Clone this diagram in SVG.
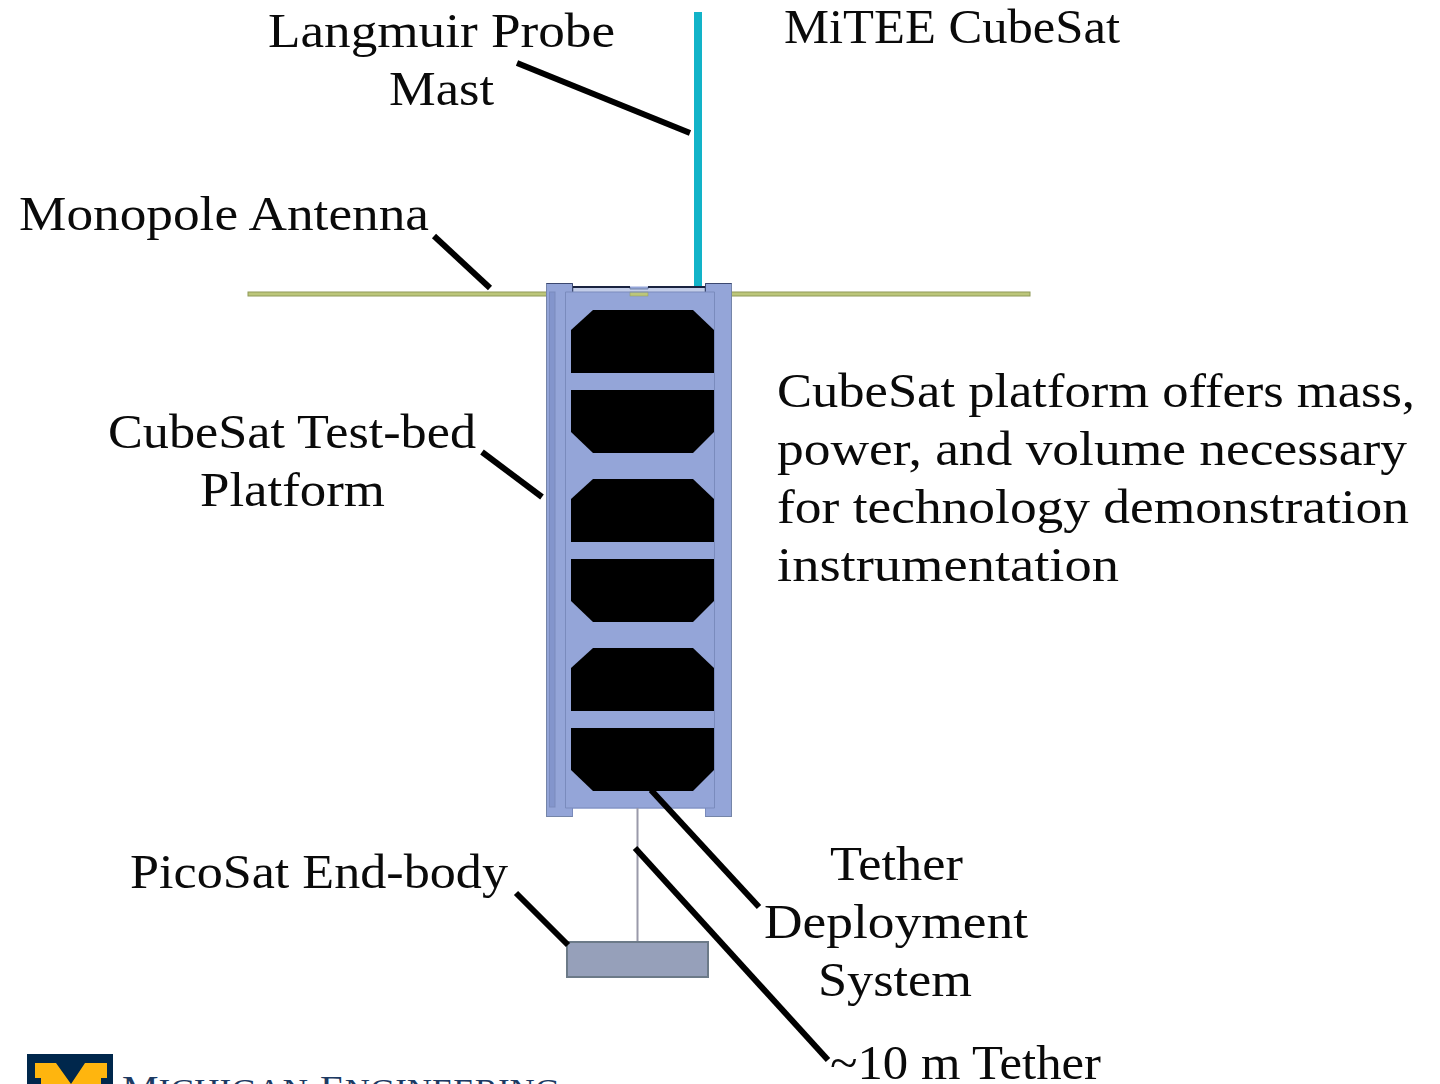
<svg xmlns="http://www.w3.org/2000/svg" width="1440" height="1084" viewBox="0 0 1440 1084">
<style>
text{font-family:"Liberation Serif","DejaVu Serif",serif;font-size:48px;fill:#0a0a0a}
.pan{fill:#000}
.body{fill:#94a5d8;stroke:#7585a8;stroke-width:1}
.lead{stroke:#000;stroke-width:6;fill:none}
.ant{fill:#bcc67a;stroke:#8f9a58;stroke-width:1}
.logot{font-size:36px;fill:#1d3a63}
.logot tspan{font-size:31px}
</style>
<rect width="1440" height="1084" fill="#fff"/>
<g id="antenna">
<rect class="ant" x="248" y="292" width="300" height="4"/>
<rect class="ant" x="731" y="292" width="299" height="4"/>
</g>
<g id="cubesat">
<rect class="body" x="546.500" y="283.500" width="185" height="533"/>
<rect x="573" y="270" width="132" height="16.500" fill="#fff"/>
<rect x="573" y="808.500" width="132" height="12" fill="#fff"/>
<path d="M573 292V287H630V289H648V287H705V292" fill="#c3cde8" stroke="#7585a8"/>
<path d="M573 287H630M648 287H705" stroke="#1a2340" stroke-width="2"/>
<rect x="630" y="292" width="18" height="4" fill="#bcc67a" stroke="#8f9a58" stroke-width="0.500"/>
<path d="M546.500 283.500H572.500V292M705.500 292V283.500H731.500" fill="none" stroke="#3c4870"/>
<rect x="549.500" y="292" width="5.500" height="515" fill="#8395cc" stroke="#7a8bbd"/>
<path d="M565.500 292V808M714.500 292V808M565.500 292H714.500M565.500 808H714.500M572.500 808V816.500M705.500 808V816.500" fill="none" stroke="#7a8bbd"/>
<path class="pan" d="M593 310H693L714 330V373H571V330Z"/>
<path class="pan" d="M571 390H714V432L693 453H593L571 432Z"/>
<path class="pan" d="M593 479H693L714 499V542H571V499Z"/>
<path class="pan" d="M571 559H714V601L693 622H593L571 601Z"/>
<path class="pan" d="M593 648H693L714 668V711H571V668Z"/>
<path class="pan" d="M571 728H714V770L693 791H593L571 770Z"/>
</g>
<g id="mast"><rect x="694" y="12" width="8" height="274" fill="#12b3c8"/></g>
<g id="tether"><rect x="636.500" y="808" width="2" height="135" fill="#9a9aaa"/></g>
<g id="endbody"><rect x="567" y="942" width="141" height="35" fill="#96a0ba" stroke="#6c7a88" stroke-width="2"/></g>
<g id="connectors">
<path class="lead" d="M517 63L690 133"/>
<path class="lead" d="M434 236L490 288"/>
<path class="lead" d="M482 452L542 497"/>
<path class="lead" d="M651 790L759 907"/>
<path class="lead" d="M635 848L828 1060"/>
<path class="lead" d="M516 893L568 945"/>
</g>
<g id="labels">
<text x="268" y="47" textLength="347" lengthAdjust="spacingAndGlyphs">Langmuir Probe</text>
<text x="389" y="105" textLength="105" lengthAdjust="spacingAndGlyphs">Mast</text>
<text x="784" y="43" textLength="336" lengthAdjust="spacingAndGlyphs">MiTEE CubeSat</text>
<text x="19" y="230" textLength="410" lengthAdjust="spacingAndGlyphs">Monopole Antenna</text>
<text x="108" y="448" textLength="368" lengthAdjust="spacingAndGlyphs">CubeSat Test-bed</text>
<text x="200" y="506" textLength="185" lengthAdjust="spacingAndGlyphs">Platform</text>
<text x="777" y="407" textLength="638" lengthAdjust="spacingAndGlyphs">CubeSat platform offers mass,</text>
<text x="777" y="465" textLength="630" lengthAdjust="spacingAndGlyphs">power, and volume necessary</text>
<text x="777" y="523" textLength="632" lengthAdjust="spacingAndGlyphs">for technology demonstration</text>
<text x="777" y="581" textLength="342" lengthAdjust="spacingAndGlyphs">instrumentation</text>
<text x="130" y="888" textLength="378" lengthAdjust="spacingAndGlyphs">PicoSat End-body</text>
<text x="830" y="880" textLength="133" lengthAdjust="spacingAndGlyphs">Tether</text>
<text x="764" y="938" textLength="264" lengthAdjust="spacingAndGlyphs">Deployment</text>
<text x="818" y="996" textLength="154" lengthAdjust="spacingAndGlyphs">System</text>
<text x="830" y="1079" textLength="271" lengthAdjust="spacingAndGlyphs">~10 m Tether</text>
</g>
<g id="logo">
<rect x="27" y="1054" width="86" height="30" fill="#00274c"/>
<path d="M35 1063H56L71 1084L85 1063H107V1078H101V1084H41V1078H35Z" fill="#ffb50e"/>
<text class="logot" x="122" y="1101" textLength="186" lengthAdjust="spacingAndGlyphs">M<tspan>ICHIGAN</tspan></text>
<text class="logot" x="320" y="1101" textLength="240" lengthAdjust="spacingAndGlyphs">E<tspan>NGINEERING</tspan></text>
</g>
</svg>
